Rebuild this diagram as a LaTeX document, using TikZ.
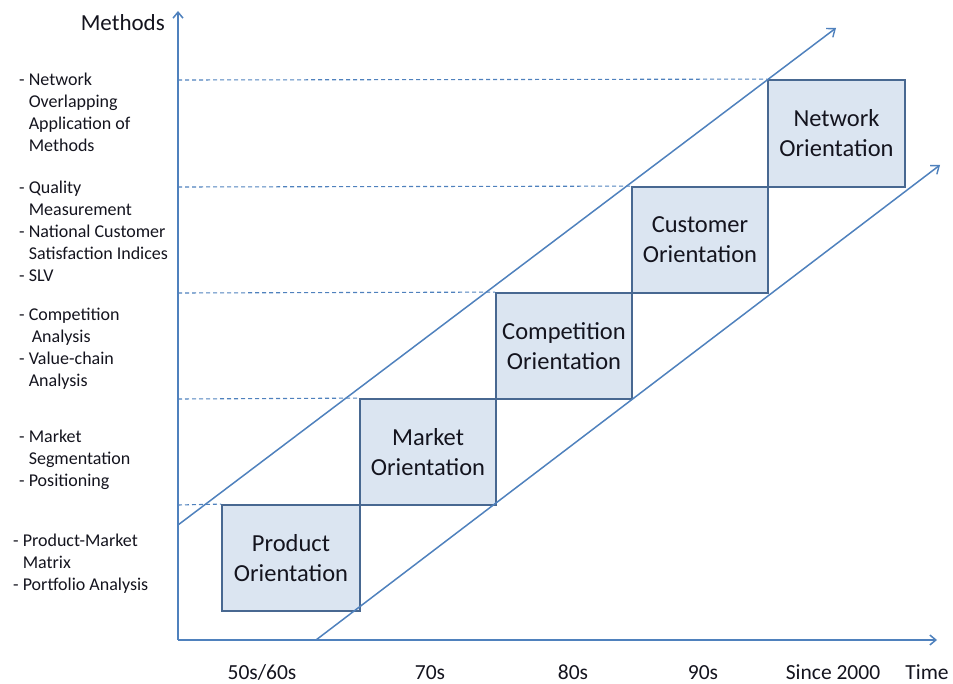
\documentclass[tikz,border=0pt]{standalone}
\usepackage{fontspec}
\setmainfont{Carlito}
\usetikzlibrary{arrows.meta}
\definecolor{axisblue}{RGB}{79,129,189}
\definecolor{boxfill}{RGB}{219,229,241}
\definecolor{boxline}{RGB}{72,104,145}
\definecolor{txt}{RGB}{20,20,30}
\tikzset{
  orient/.style={draw=boxline, line width=1.8pt, fill=boxfill, align=center, text=txt,
    font=\fontsize{24.5}{30}\selectfont, inner sep=0pt},
  axisline/.style={draw=axisblue, line width=1.8pt, -{Straight Barb[length=6pt,width=10pt,line width=1.5pt]}},
  diag/.style={draw=axisblue, line width=1.5pt, -{Straight Barb[length=7pt,width=11pt,line width=1.4pt]}},
  guide/.style={draw=axisblue, line width=1.1pt, dash pattern=on 4pt off 3pt},
  methods/.style={align=left, anchor=north west, inner sep=0pt, text=txt,
    font=\fontsize{18}{22}\selectfont},
  timelbl/.style={text=txt, font=\fontsize{21.5}{24}\selectfont, inner sep=0pt, anchor=base}
}
\begin{document}
\begin{tikzpicture}[x=1pt,y=-1pt]
\useasboundingbox (0,0) rectangle (953,684);
% axes coordinates
\coordinate (O) at (178,640);
\coordinate (ytop) at (178,11);
\coordinate (xend) at (937,640);
% guide coordinates on y-axis
\coordinate (g1) at (178,80);
\coordinate (g2) at (178,187);
\coordinate (g3) at (178,293);
\coordinate (g4) at (178,399);
\coordinate (g5) at (178,505);
% diagonal ends
\coordinate (u0) at (178,525);
\coordinate (u1) at (836,28);
\coordinate (l0) at (316,640);
\coordinate (l1) at (940,165);

% boxes
\node[orient, minimum width=138pt, minimum height=106pt] (prod) at (291,558) {Product\\Orientation};
\node[orient, minimum width=136pt, minimum height=106pt] (mkt) at (428,452) {Market\\Orientation};
\node[orient, minimum width=136pt, minimum height=106pt] (comp) at (564,346) {Competition\\Orientation};
\node[orient, minimum width=136pt, minimum height=106pt] (cust) at (700,240) {Customer\\Orientation};
\node[orient, minimum width=137pt, minimum height=107pt] (net) at (836.5,133.5) {Network\\Orientation};

% dashed guides
\draw[guide] (g1) -- (net.north west);
\draw[guide] (g2) -- (cust.north west);
\draw[guide] (g3) -- (comp.north west);
\draw[guide] (g4) -- (mkt.north west);
\draw[guide] (g5) -- (prod.north west);

% diagonals
\draw[diag] (u0) -- (u1);
\draw[diag] (l0) -- (l1);

% axes
\draw[axisline] (O) -- (ytop);
\draw[axisline] (O) -- (xend);

% axis labels
\node[text=txt, font=\fontsize{23}{25}\selectfont, anchor=east, inner sep=0pt] (ylab) at (165,23) {Methods};
\node[timelbl] (xlab) at (927,679) {Time};
\node[timelbl] (t1) at (262,679) {50s/60s};
\node[timelbl] (t2) at (430,679) {70s};
\node[timelbl] (t3) at (573,679) {80s};
\node[timelbl] (t4) at (703,679) {90s};
\node[timelbl] (t5) at (833,679) {Since 2000};

% method lists
\node[methods] (m1) at (19,73) {- Network\\\hphantom{- }Overlapping\\\hphantom{- }Application of\\\hphantom{- }Methods};
\node[methods] (m2) at (19,181) {- Quality\\\hphantom{- }Measurement\\- National Customer\\\hphantom{- }Satisfaction Indices\\- SLV};
\node[methods] (m3) at (19,308) {- Competition\\\hphantom{- }\,Analysis\\- Value-chain\\\hphantom{- }Analysis};
\node[methods] (m4) at (19,430) {- Market\\\hphantom{- }Segmentation\\- Positioning};
\node[methods] (m5) at (13,534) {- Product-Market\\\hphantom{- }Matrix\\- Portfolio Analysis};
\end{tikzpicture}
\end{document}
